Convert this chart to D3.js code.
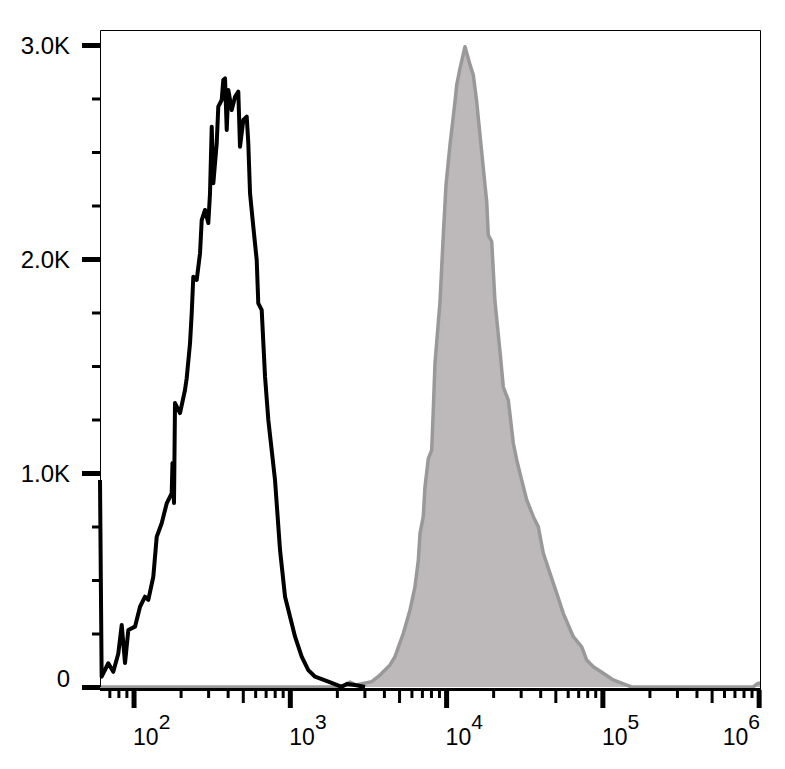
<!DOCTYPE html>
<html>
<head>
<meta charset="utf-8">
<script src="https://cdn.jsdelivr.net/npm/d3@7"></script>
<style>
  html, body { margin: 0; padding: 0; background: #fff; }
  svg { display: block; }
  text { font-family: "Liberation Sans", Arial, sans-serif; fill: #000; }
</style>
</head>
<body>
<svg id="chart" width="785" height="769"></svg>
<script>
// ---- data ----
const blackX = [61, 62.5, 68.9, 74.2, 79.9, 84, 88.2, 92.6, 102.2, 110, 118.4, 124.3, 133.8, 140.7, 151.4, 163, 175.4, 177.5, 181.5, 184.2, 198.3, 213.4, 218.8, 229.8, 235.6, 241.2, 253.6, 266.3, 273, 286.6, 300.9, 308.5, 316.4, 323.9, 340.5, 348.6, 366.5, 375.3, 384.9, 394.7, 404, 424.8, 446, 468, 480, 503.9, 529.8, 542.4, 556.3, 583.9, 613.9, 628.3, 660.7, 694, 728.5, 804, 865.6, 932, 1080, 1191, 1313, 1450, 1764, 2148, 2323, 2614, 3029];
const blackCount = [967, 48, 111, 71, 157, 290, 112, 266, 282, 375, 422, 407, 515, 702, 765, 858, 905, 1047, 860, 1327, 1280, 1388, 1443, 1606, 1746, 1917, 1902, 2027, 2182, 2229, 2168, 2307, 2618, 2354, 2541, 2712, 2743, 2837, 2844, 2603, 2790, 2696, 2758, 2782, 2525, 2650, 2665, 2541, 2307, 2151, 1995, 1793, 1762, 1450, 1248, 967, 640, 422, 235, 142, 79, 48, 25, 1, 14, 9, 0];

const greyX = [61, 2095, 2427, 2651, 3342, 3776, 4375, 4711, 5325, 5875, 6327, 6641, 6808, 7144, 7326, 7694, 8089, 8279, 8490, 9138, 9596, 9985, 10590, 11400, 11690, 12270, 13210, 14230, 14930, 15700, 16070, 16480, 17300, 18190, 18620, 19580, 20550, 22130, 23220, 25000, 26920, 28300, 30460, 32800, 36150, 38910, 41890, 46230, 51030, 56220, 65150, 73750, 79360, 87470, 101400, 117400, 143000, 154700, 919900, 990000, 1020000];
const greyCount = [0, 0, 23, 9, 25, 56, 103, 142, 251, 360, 469, 593, 718, 796, 936, 1067, 1107, 1294, 1514, 1800, 2112, 2346, 2533, 2735, 2813, 2891, 2992, 2907, 2860, 2735, 2658, 2580, 2424, 2268, 2112, 2081, 1800, 1567, 1403, 1341, 1139, 1061, 967, 874, 796, 749, 625, 531, 438, 344, 235, 188, 126, 95, 64, 33, 9, 0, 0, 17, 17];

const yMajorTicks = [0, 1000, 2000, 3000];
const yMajorLabels = ["0", "1.0K", "2.0K", "3.0K"];
const yMinorTicks = [250, 500, 750, 1250, 1500, 1750, 2250, 2500, 2750];
const xDecades = [100, 1000, 10000, 100000, 1000000];
const xExponents = ["2", "3", "4", "5", "6"];

// ---- layout ----
const svg = d3.select("#chart");
const plotLeft = 100, plotRight = 760, plotTop = 30, zeroY = 687;
const x = d3.scaleLog().domain([61, 1.02e6]).range([plotLeft, plotRight]);
const y = d3.scaleLinear().domain([0, 3000]).range([zeroY, 45]);

// minor x ticks
const xMinor = [], xMid = [];
for (let e = 1; e <= 5; e++) {
  for (let m = 2; m <= 9; m++) {
    const v = m * Math.pow(10, e);
    if (v < 61 || v > 1.02e6) continue;
    if (m === 5) xMid.push(v); else xMinor.push(v);
  }
}

// ---- series ----
const greyData = greyX.map((v, i) => [v, greyCount[i]]);
const blackData = blackX.map((v, i) => [v, blackCount[i]]);

const area = d3.area().x(d => x(d[0])).y0(y(0)).y1(d => y(d[1]));
const line = d3.line().x(d => x(d[0])).y(d => y(d[1]));

svg.append("path").datum(greyData)
  .attr("d", area).attr("fill", "#bdb9ba");
svg.append("path").datum(greyData)
  .attr("d", line).attr("fill", "none").attr("stroke", "#999999")
  .attr("stroke-width", 3.5).attr("stroke-linejoin", "round");

svg.append("path").datum(blackData)
  .attr("d", line).attr("fill", "none").attr("stroke", "#000")
  .attr("stroke-width", 4).attr("stroke-linejoin", "round");

// ---- frame ----
svg.append("path")
  .attr("d", `M${plotLeft + 0.5},${zeroY}V${plotTop + 0.5}H${plotRight + 0.5}V${zeroY + 2}`)
  .attr("fill", "none").attr("stroke", "#000").attr("stroke-width", 1);

// ---- x axis ----
function styleAxis(g, width) {
  g.select(".domain").remove();
  g.selectAll(".tick text").remove();
  g.selectAll(".tick line").attr("stroke", "#000").attr("stroke-width", width);
}
svg.append("g").attr("transform", `translate(0,${zeroY + 3})`)
  .call(d3.axisBottom(x).tickValues(xMinor).tickSize(8))
  .call(g => styleAxis(g, 3));
svg.append("g").attr("transform", `translate(0,${zeroY + 3})`)
  .call(d3.axisBottom(x).tickValues(xMid).tickSize(13))
  .call(g => styleAxis(g, 3));
svg.append("g").attr("transform", `translate(0,${zeroY + 3})`)
  .call(d3.axisBottom(x).tickValues(xDecades).tickSize(18))
  .call(g => styleAxis(g, 5));

svg.append("line")
  .attr("x1", plotLeft).attr("x2", plotRight + 1)
  .attr("y1", zeroY + 2.5).attr("y2", zeroY + 2.5)
  .attr("stroke", "#000").attr("stroke-width", 3);

// x labels
xDecades.forEach((v, i) => {
  const last = i === xDecades.length - 1;
  const t = svg.append("text")
    .attr("x", last ? plotRight : x(v) - 0.5)
    .attr("y", 745)
    .attr("text-anchor", last ? "end" : "start")
    .style("font-size", "23px");
  t.append("tspan").text("10");
  t.append("tspan").attr("dy", -16).style("font-size", "21px").text(xExponents[i]);
});

// ---- y axis ----
svg.append("g").attr("transform", `translate(${plotLeft},0)`)
  .call(d3.axisLeft(y).tickValues(yMinorTicks).tickSize(8))
  .call(g => styleAxis(g, 3));
svg.append("g").attr("transform", `translate(${plotLeft},0)`)
  .call(d3.axisLeft(y).tickValues(yMajorTicks).tickSize(18))
  .call(g => styleAxis(g, 5));

yMajorTicks.forEach((v, i) => {
  svg.append("text")
    .attr("x", 70)
    .attr("y", v === 0 ? y(v) : y(v) + 9)
    .attr("text-anchor", "end")
    .style("font-size", "24px")
    .text(yMajorLabels[i]);
});
</script>
</body>
</html>
